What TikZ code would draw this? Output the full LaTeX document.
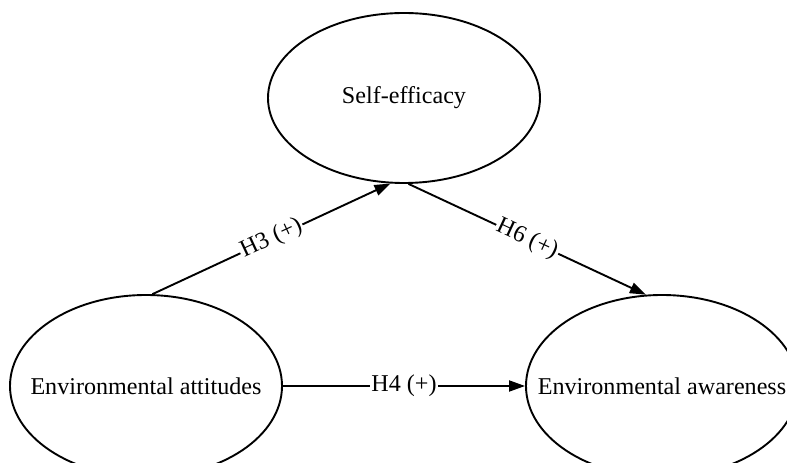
\documentclass[tikz,border=0pt]{standalone}
\usepackage{fontspec}
\setmainfont{Liberation Serif}
\usetikzlibrary{shapes.geometric,arrows.meta}
\begin{document}
\begin{tikzpicture}[x=1bp,y=-1bp,
  construct/.style={ellipse,draw,line width=1.9bp,inner sep=0pt},
  lbl/.style={font=\fontsize{24.2}{29}\selectfont},
  path/.style={line width=1.9bp,-{Triangle[length=16bp,width=11bp]}},
  elabel/.style={midway,sloped,fill=white,inner sep=1.5bp,font=\fontsize{24.2}{29}\selectfont}]
\useasboundingbox (0,0) rectangle (787,463);
\node[construct,minimum width=272bp,minimum height=170bp] (se) at (404,98) {};
\node[lbl] (setext) at (se.center) {Self-efficacy};
\node[construct,minimum width=272bp,minimum height=182bp] (ea) at (146,386) {};
\node[lbl] (eatext) at (ea.center) {Environmental attitudes};
\node[construct,minimum width=272bp,minimum height=182bp] (ew) at (662,386) {};
\node[lbl] (ewtext) at (ew.center) {Environmental awareness};
\draw[path] (ea.86) -- node[elabel] {H3 (+)} (se.261);
\draw[path] (se.273) -- node[elabel] {H6 (+)} (ew.100);
\draw[path] (ea.east) -- node[elabel] {H4 (+)} (ew.west);
\end{tikzpicture}
\end{document}
